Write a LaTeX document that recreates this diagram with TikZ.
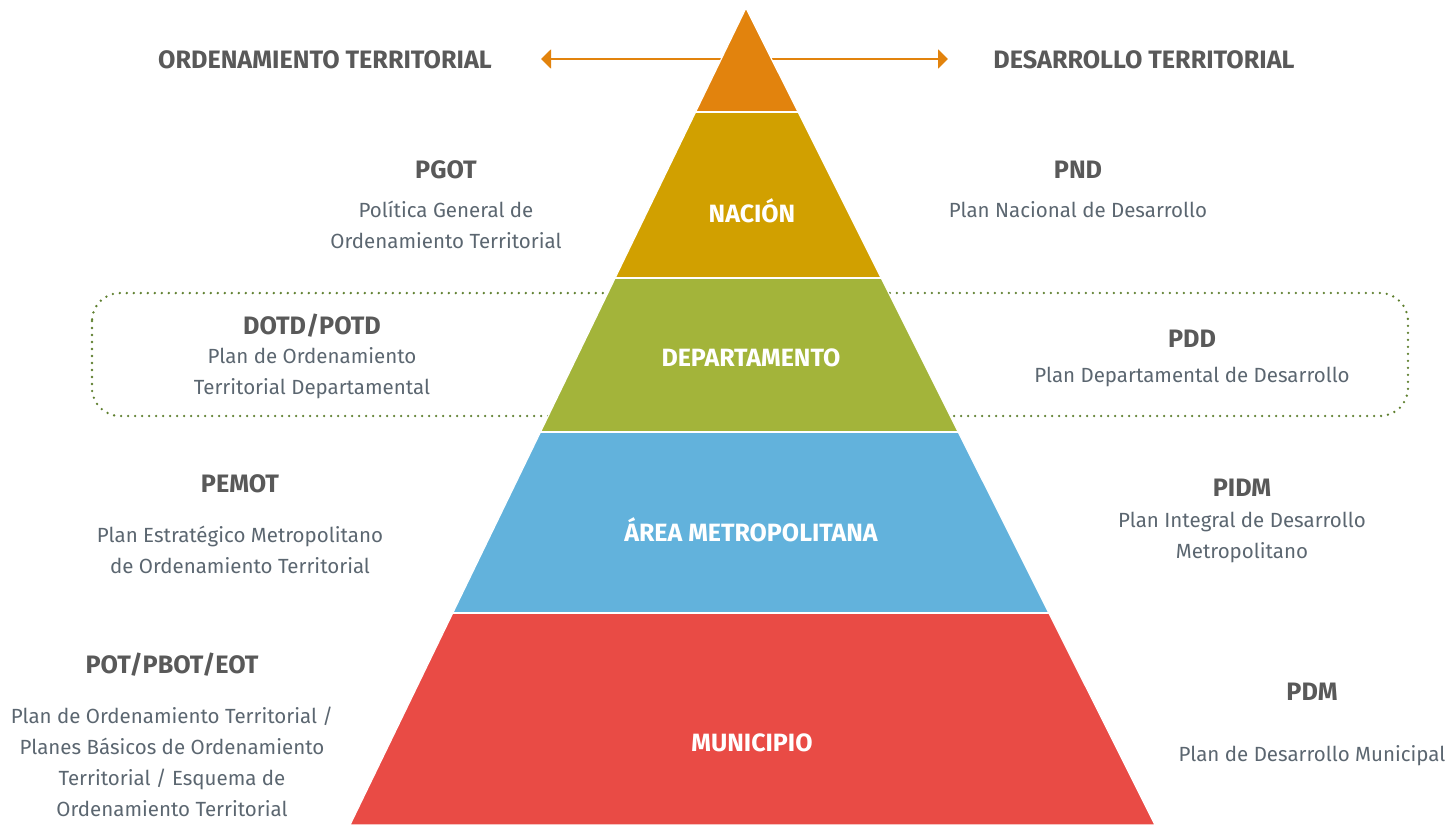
\documentclass[tikz,border=0pt]{standalone}
\usepackage{fontspec}
\setmainfont{Fira Sans}
\usetikzlibrary{calc,arrows.meta}
\definecolor{toporange}{HTML}{E2830D}
\definecolor{naciongold}{HTML}{D1A000}
\definecolor{deptgreen}{HTML}{A3B43A}
\definecolor{areablue}{HTML}{62B2DC}
\definecolor{munired}{HTML}{E94B45}
\definecolor{headgray}{HTML}{595959}
\definecolor{bodygray}{HTML}{5B6670}
\definecolor{dotgreen}{HTML}{5E7F2E}
\begin{document}
\begin{tikzpicture}[x=1pt,y=-1pt]
  \tikzstyle{head}=[font=\fontsize{25.2}{28}\selectfont\bfseries, text=headgray]
  \tikzstyle{desc}=[font=\fontsize{20.5}{31}\selectfont, text=bodygray, align=center]
  \tikzstyle{level}=[font=\fontsize{25}{28}\selectfont\bfseries, text=white]
  \tikzstyle{band}=[draw=white, line width=1.2pt]
  \useasboundingbox (0,0) rectangle (1452,825);

  \coordinate (apex) at (746,8);
  \coordinate (bl) at (350,825);
  \coordinate (br) at (1155,825);
  \coordinate (al) at (541,59);
  \coordinate (ar) at (948,59);

  \draw[dotgreen, line width=2.6pt, line cap=round, dash pattern=on 0pt off 7pt, rounded corners=28pt] (92,293) rectangle (1408,416);
  \draw[toporange, line width=2pt, {Triangle[length=10pt,width=19pt]}-{Triangle[length=10pt,width=19pt]}] (al) -- (ar);

  \fill[band, fill=toporange] (apex) -- ($(apex)!0.1273!(br)$) -- ($(apex)!0.1273!(bl)$) -- cycle;
  \fill[band, fill=naciongold] ($(apex)!0.1273!(bl)$) -- ($(apex)!0.1273!(br)$) -- ($(apex)!0.3305!(br)$) -- ($(apex)!0.3305!(bl)$) -- cycle;
  \fill[band, fill=deptgreen] ($(apex)!0.3305!(bl)$) -- ($(apex)!0.3305!(br)$) -- ($(apex)!0.5190!(br)$) -- ($(apex)!0.5190!(bl)$) -- cycle;
  \fill[band, fill=areablue] ($(apex)!0.5190!(bl)$) -- ($(apex)!0.5190!(br)$) -- ($(apex)!0.7405!(br)$) -- ($(apex)!0.7405!(bl)$) -- cycle;
  \fill[band, fill=munired] ($(apex)!0.7405!(bl)$) -- ($(apex)!0.7405!(br)$) -- (br) -- (bl) -- cycle;
  \draw[band] ($(apex)!0.1273!(bl)$) -- ($(apex)!0.1273!(br)$);
  \draw[band] ($(apex)!0.3305!(bl)$) -- ($(apex)!0.3305!(br)$);
  \draw[band] ($(apex)!0.5190!(bl)$) -- ($(apex)!0.5190!(br)$);
  \draw[band] ($(apex)!0.7405!(bl)$) -- ($(apex)!0.7405!(br)$);

  \node[head] (ot) at (325,60) {ORDENAMIENTO TERRITORIAL};
  \node[head] (dt) at (1144,60) {DESARROLLO TERRITORIAL};

  \node[level] (nacion) at (752,211) {NACIÓN};
  \node[level] (depto) at (751,358) {DEPARTAMENTO};
  \node[level] (area) at (751,530) {ÁREA METROPOLITANA};
  \node[level] (muni) at (752,743) {MUNICIPIO};

  \node[head] (pgot) at (446,170) {PGOT};
  \node[desc] (pgotd) at (446,225) {Política General de\\Ordenamiento Territorial};
  \node[head] (pnd) at (1078,170) {PND};
  \node[desc] (pndd) at (1078,210) {Plan Nacional de Desarrollo};

  \node[head] (dotd) at (312,326) {DOTD/POTD};
  \node[desc] (dotdd) at (312,373) {Plan de Ordenamiento\\Territorial Departamental};
  \node[head] (pdd) at (1192,339) {PDD};
  \node[desc] (pddd) at (1192,377) {Plan Departamental de Desarrollo};

  \node[head] (pemot) at (240,484) {PEMOT};
  \node[desc] (pemotd) at (240,550) {Plan Estratégico Metropolitano\\de Ordenamiento Territorial};
  \node[head] (pidm) at (1242,488) {PIDM};
  \node[desc] (pidmd) at (1242,537) {Plan Integral de Desarrollo\\Metropolitano};

  \node[head] (pot) at (172,665) {POT/PBOT/EOT};
  \node[desc] (potd) at (172,762) {Plan de Ordenamiento Territorial /\\Planes Básicos de Ordenamiento\\Territorial / Esquema de\\Ordenamiento Territorial};
  \node[head] (pdm) at (1312,692) {PDM};
  \node[desc] (pdmd) at (1312,756) {Plan de Desarrollo Municipal};
\end{tikzpicture}
\end{document}
